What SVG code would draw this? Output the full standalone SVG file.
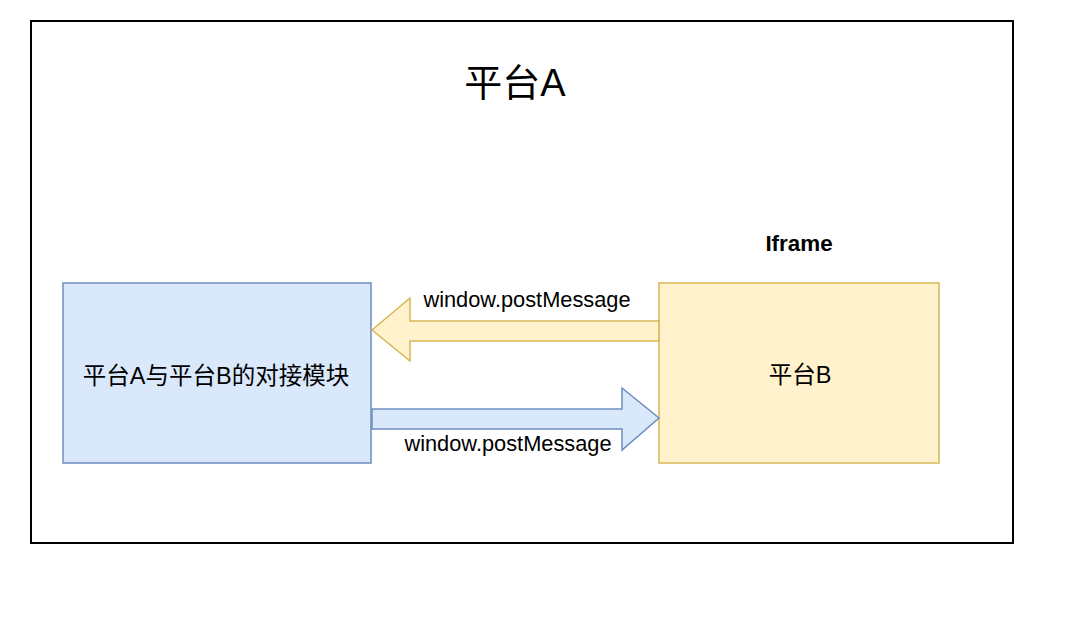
<svg xmlns="http://www.w3.org/2000/svg" width="1088" height="622" viewBox="0 0 1088 622">
<style>
text{font-family:"Liberation Sans","Noto Sans CJK SC",sans-serif;fill:#000;text-anchor:middle}
.lbl{font-size:21.8px}
.cjk{font-size:23.5px}
</style>
<rect width="1088" height="622" fill="#fff"/>
<g id="platformA">
<rect x="31" y="21" width="982" height="522" fill="#fff" stroke="#000" stroke-width="2"/>
<text x="515" y="96" style="font-size:38px">平台A</text>
</g>
<g id="moduleA">
<rect x="63" y="283" width="308" height="180" fill="#dae8fc" stroke="#6c8ebf" stroke-width="1.5"/>
<text class="cjk" x="216" y="384">平台A与平台B的对接模块</text>
</g>
<g id="platformB">
<rect x="659" y="283" width="280" height="180" fill="#fff2cc" stroke="#d6b656" stroke-width="1.5"/>
<text class="cjk" x="800" y="383">平台B</text>
<text x="799" y="251" style="font-size:22.4px;font-weight:bold">Iframe</text>
</g>
<g id="connectors">
<path d="M659,321 L410,321 L410,298 L372,330 L410,361 L410,341 L659,341 Z" fill="#fff2cc" stroke="#d6b656" stroke-width="1.5" stroke-linejoin="miter"/>
<path d="M372,409 L622,409 L622,388 L659,418 L622,450 L622,429 L372,429 Z" fill="#dae8fc" stroke="#6c8ebf" stroke-width="1.5"/>
<text class="lbl" x="527" y="307">window.postMessage</text>
<text class="lbl" x="508" y="451">window.postMessage</text>
</g>
</svg>
